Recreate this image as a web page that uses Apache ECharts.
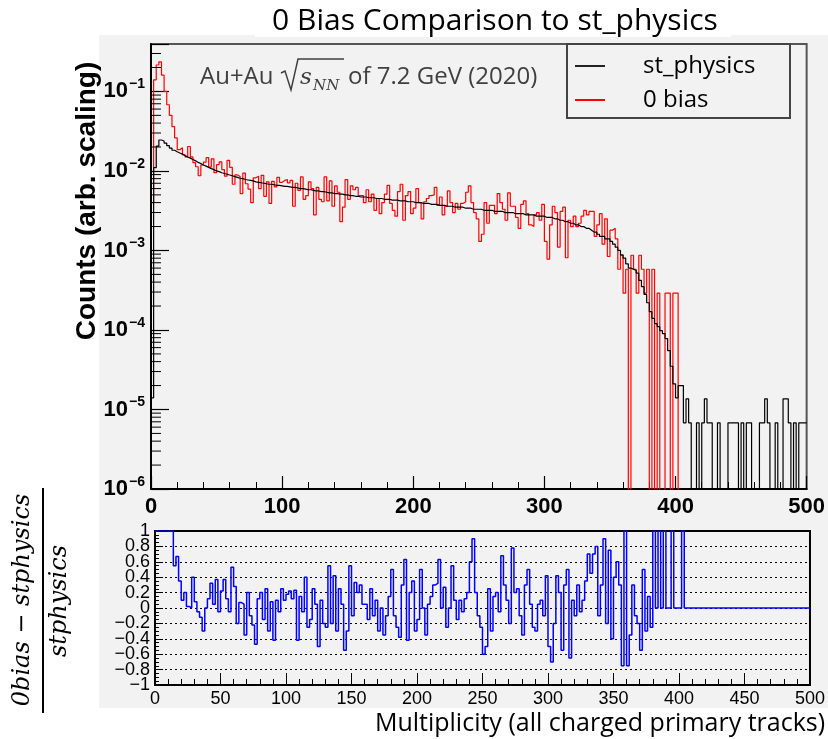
<!DOCTYPE html>
<html>
<head>
<meta charset="utf-8">
<script src="https://cdn.jsdelivr.net/npm/echarts@6/dist/echarts.min.js"></script>
<style>
  html, body { margin: 0; padding: 0; background: #fff; }
  #chart { width: 828px; height: 739px; }
</style>
</head>
<body>
<div id="chart"></div>
<script>
// Multiplicity histograms, 2-track-wide bins starting at 0
const BIN_WIDTH = 2;
const X_MAX = 500;

// st_physics trigger (black), normalised counts per bin
const stPhysics = [
  1.4e-5, 0.0110, 0.0205, 0.0245, 0.0238, 0.0224, 0.0208, 0.0194, 0.0182, 0.0174,
  0.0168, 0.0163, 0.0156, 0.0150, 0.0145, 0.0139, 0.0134, 0.0128, 0.0124, 0.0119,
  0.0115, 0.0111, 0.0107, 0.0104, 0.0100, 0.0098, 0.0095, 0.0093, 0.0091, 0.0089,
  0.0087, 0.0085, 0.0083, 0.0081, 0.0080, 0.0078, 0.0077, 0.0076, 0.0075, 0.0073,
  0.0072, 0.0071, 0.0070, 0.0069, 0.0068, 0.0068, 0.0067, 0.0066, 0.0066, 0.0065,
  0.0064, 0.0064, 0.0063, 0.0062, 0.0062, 0.0061, 0.0060, 0.0060, 0.0059, 0.0058,
  0.0058, 0.0057, 0.0056, 0.0056, 0.0055, 0.0055, 0.0054, 0.0053, 0.0053, 0.0052,
  0.0052, 0.0051, 0.0051, 0.0050, 0.0050, 0.0049, 0.0049, 0.0048, 0.0048, 0.0047,
  0.0047, 0.0047, 0.0046, 0.0046, 0.0046, 0.0045, 0.0045, 0.0045, 0.0044, 0.0044,
  0.0044, 0.0043, 0.0043, 0.0043, 0.0042, 0.0042, 0.0042, 0.0041, 0.0041, 0.0041,
  0.0040, 0.0040, 0.0040, 0.0039, 0.0039, 0.0039, 0.0038, 0.0038, 0.0038, 0.0037,
  0.0037, 0.0037, 0.0036, 0.0036, 0.0036, 0.0035, 0.0035, 0.0035, 0.0035, 0.0034,
  0.0034, 0.0034, 0.0033, 0.0033, 0.0033, 0.0033, 0.0032, 0.0032, 0.0032, 0.0032,
  0.0031, 0.0031, 0.0031, 0.0031, 0.0030, 0.0030, 0.0030, 0.0030, 0.0029, 0.0029,
  0.0029, 0.0029, 0.0028, 0.0028, 0.0028, 0.0028, 0.0027, 0.0027, 0.0027, 0.0027,
  0.0026, 0.0026, 0.0026, 0.0025, 0.0025, 0.0024, 0.0024, 0.0023, 0.0023, 0.0022,
  0.0022, 0.0021, 0.0021, 0.0020, 0.0020, 0.0019, 0.0019, 0.0018, 0.0017, 0.0017,
  0.0016, 0.0015, 0.0015, 0.0014, 0.0014, 0.0013, 0.0012, 0.0011, 0.00100, 0.00088,
  0.00080, 0.00068, 0.00060, 0.00058, 0.00056, 0.00052, 0.00042, 0.00035, 0.00028, 0.00022,
  0.00017, 0.00014, 0.00012, 0.00011, 0.000098, 0.000090, 0.000078, 0.000055, 0.000035, 0.000021,
  0.000014, 0.000020, 0.000020, 0.0000068, 0.0000136, 0.0000068, 0, 0, 0.0000068, 0,
  0.0000068, 0.0000136, 0.0000068, 0.0000068, 0, 0, 0.0000068, 0, 0, 0,
  0.0000068, 0.0000068, 0.0000068, 0.0000068, 0, 0.0000068, 0, 0.0000068, 0.0000068, 0,
  0, 0, 0.0000068, 0.0000068, 0.0000136, 0.0000068, 0, 0, 0.0000068, 0,
  0, 0.0000136, 0.0000136, 0.0000068, 0, 0.0000068, 0, 0.0000068, 0.0000068, 0.0000068
];

// zero-bias trigger (red), normalised counts per bin
const zeroBias = [
  0.0040, 0.14, 0.215, 0.236, 0.16, 0.10, 0.068, 0.050, 0.036, 0.026,
  0.0185, 0.0196, 0.0159, 0.0150, 0.0203, 0.0150, 0.0127, 0.0113, 0.0087, 0.0119,
  0.0129, 0.0147, 0.0112, 0.0142, 0.0095, 0.0120, 0.0130, 0.0104, 0.0086, 0.0136,
  0.0111, 0.0068, 0.0089, 0.0085, 0.0052, 0.0094, 0.0069, 0.0059, 0.0040, 0.0082,
  0.0086, 0.0060, 0.0088, 0.0048, 0.0073, 0.0039, 0.0074, 0.0063, 0.0083, 0.0072,
  0.0076, 0.0078, 0.0071, 0.0076, 0.0036, 0.0070, 0.0057, 0.0084, 0.0044, 0.0049,
  0.0073, 0.0060, 0.0028, 0.0062, 0.0044, 0.0041, 0.0084, 0.0042, 0.0075, 0.0036,
  0.0065, 0.0054, 0.0023, 0.0035, 0.0078, 0.0044, 0.0065, 0.0058, 0.0062, 0.0049,
  0.0049, 0.0040, 0.0058, 0.0041, 0.0051, 0.0032, 0.0045, 0.0029, 0.0040, 0.0051,
  0.0066, 0.0039, 0.0032, 0.0027, 0.0055, 0.0068, 0.0024, 0.0049, 0.0055, 0.0029,
  0.0034, 0.0060, 0.0040, 0.0025, 0.0041, 0.0045, 0.0049, 0.0050, 0.0062, 0.0037,
  0.0047, 0.0028, 0.0036, 0.0056, 0.0040, 0.0030, 0.0039, 0.0033, 0.0039, 0.0041,
  0.0054, 0.0065, 0.0040, 0.0030, 0.0025, 0.0013, 0.0016, 0.0040, 0.0022, 0.0037,
  0.0037, 0.0029, 0.0052, 0.0040, 0.0033, 0.0024, 0.0053, 0.0036, 0.0036, 0.0026,
  0.0019, 0.0038, 0.0042, 0.0029, 0.0021, 0.0020, 0.0028, 0.0030, 0.0024, 0.0038,
  0.0013, 0.00078, 0.0021, 0.0036, 0.0030, 0.0011, 0.0031, 0.0035, 0.00081, 0.0024,
  0.0020, 0.0027, 0.0020, 0.0022, 0.0027, 0.0032, 0.0028, 0.0031, 0.0031, 0.0015,
  0.0021, 0.0029, 0.0012, 0.0025, 0.00084, 0.0018, 0.0019, 0.0014, 0.00058, 0.00087,
  0.00029, 0.00058, 0, 0.00087, 0.00058, 0.00029, 0.00087, 0.00058, 0.00029, 0.00058,
  0, 0.00058, 0, 0.00029, 0, 0, 0.00029, 0.00029, 0, 0.00029,
  0.00029, 0, 0, 0, 0, 0, 0, 0, 0, 0,
  0, 0, 0, 0, 0, 0, 0, 0, 0, 0,
  0, 0, 0, 0, 0, 0, 0, 0, 0, 0,
  0, 0, 0, 0, 0, 0, 0, 0, 0, 0,
  0, 0, 0, 0, 0, 0, 0, 0, 0, 0
];

// (0bias - stphysics) / stphysics per bin, shown within [-1, 1]
const relDiff = [
  1, 1, 1, 1, 1, 1, 1, 0.55, 0.67, 0.35,
  0.1, 0.2, 0.02, 0.0, 0.4, 0.08, -0.05, -0.12, -0.3, 0.0,
  0.12, 0.32, 0.05, 0.37, -0.05, 0.22, 0.37, 0.12, -0.05, 0.53,
  0.28, -0.2, 0.07, 0.05, -0.35, 0.2, -0.1, -0.22, -0.47, 0.12,
  0.2, -0.15, 0.25, -0.3, 0.08, -0.42, 0.1, -0.05, 0.25, 0.1,
  0.18, 0.22, 0.12, 0.23, -0.42, 0.15, -0.05, 0.4, -0.25, -0.15,
  0.25, 0.05, -0.5, 0.1, -0.2, -0.25, 0.55, -0.2, 0.42, -0.3,
  0.25, 0.05, -0.55, -0.3, 0.55, -0.1, 0.33, 0.2, 0.3, 0.05,
  0.05, -0.15, 0.25, -0.1, 0.1, -0.3, 0.0, -0.35, -0.1, 0.15,
  0.5, -0.1, -0.25, -0.38, 0.3, 0.63, -0.42, 0.2, 0.35, -0.3,
  -0.15, 0.5, 0.0, -0.35, 0.05, 0.15, 0.3, 0.32, 0.63, 0.0,
  0.27, -0.25, 0.0, 0.55, 0.1, -0.15, 0.1, -0.05, 0.12, 0.2,
  0.6, 0.9, 0.2, -0.1, -0.25, -0.6, -0.5, 0.25, -0.3, 0.15,
  0.2, -0.05, 0.68, 0.3, 0.1, -0.2, 0.78, 0.2, 0.25, -0.1,
  -0.35, 0.3, 0.5, 0.05, -0.25, -0.3, 0.05, 0.1, -0.1, 0.42,
  -0.5, -0.7, -0.2, 0.42, 0.2, -0.55, 0.3, 0.5, -0.65, 0.1,
  -0.1, 0.3, -0.05, 0.1, 0.35, 0.7, 0.45, 0.7, 0.8, -0.1,
  0.3, 0.9, -0.2, 0.75, -0.4, 0.4, 0.6, 0.3, -0.75, 1,
  -0.75, -0.35, 0.3, -0.1, -0.2, -0.55, 0.5, -0.3, 0.15, -0.25,
  1, 0, 1, 0, 1, 0, 0, 1, 0, 0,
  0, 1, 0, 0, 0, 0, 0, 0, 0, 0,
  0, 0, 0, 0, 0, 0, 0, 0, 0, 0,
  0, 0, 0, 0, 0, 0, 0, 0, 0, 0,
  0, 0, 0, 0, 0, 0, 0, 0, 0, 0,
  0, 0, 0, 0, 0, 0, 0, 0, 0, 0
];

const LOG_MIN = 1e-6;
const LOG_MAX = 0.395;
const EMPTY_BIN = 1e-9; // empty bins fall below the frame and are clipped

// Step outline for a histogram: [left edge, content] plus a closing point at X_MAX
function histOutline(values, emptyValue) {
  const pts = values.map((v, i) => [i * BIN_WIDTH, (emptyValue !== undefined && v <= 0) ? emptyValue : v]);
  pts.push([X_MAX, pts[pts.length - 1][1]]);
  return pts;
}

// Minor ticks of the log axis (2..9 x 10^n)
const logMinorTicks = [];
for (let e = -6; e <= -1; e++) {
  for (let k = 2; k <= 9; k++) {
    const v = k * Math.pow(10, e);
    if (v < LOG_MAX) logMinorTicks.push([0, v]);
  }
}

const SANS = '"Liberation Sans", Arial, sans-serif';
const TEXT_FONT = '"Open Sans", sans-serif';

// ratio-axis labels; the labels next to the frame edges live on a second
// label-only axis so that ECharts does not drop them as overlapping
function ratioLabel(v) {
  const r = Math.round(v * 10) / 10;
  return (r === 0 ? '0' : String(r)).replace('-', '\u2212');
}
const isEdgeNeighbour = v => Math.abs(Math.abs(v) - 0.8) < 1e-6;

const chart = echarts.init(document.getElementById('chart'), null, { renderer: 'canvas' });

chart.setOption({
  animation: false,
  backgroundColor: 'transparent',
  grid: [
    { left: 151, top: 44, width: 656, height: 445, show: true, borderColor: '#555', borderWidth: 2, backgroundColor: 'transparent' },
    { left: 155, top: 531, width: 659, height: 154, show: true, borderColor: '#000', borderWidth: 2, backgroundColor: 'transparent' }
  ],
  legend: {
    data: [
      { name: 'st_physics', icon: 'rect', itemStyle: { color: '#222' } },
      { name: '0 bias', icon: 'rect', itemStyle: { color: '#ff0000' } }
    ],
    orient: 'vertical',
    left: 567, top: 44,
    padding: [8, 7, 4, 8],
    itemGap: 6,
    itemWidth: 30,
    itemHeight: 2,
    backgroundColor: '#f2f2f2',
    borderColor: '#444',
    borderWidth: 2,
    borderRadius: 0,
    textStyle: { fontFamily: TEXT_FONT, fontSize: 24, color: '#000', lineHeight: 28, width: 140, padding: [0, 0, 0, 33] }
  },
  xAxis: [
    {
      type: 'value', gridIndex: 0, min: 0, max: X_MAX, interval: 100,
      axisLine: { show: true, onZero: false, lineStyle: { color: '#000', width: 2 } },
      axisTick: { show: true, inside: true, length: 13, lineStyle: { color: '#000', width: 1.2 } },
      minorTick: { show: true, splitNumber: 5, length: 7, lineStyle: { color: '#000', width: 1 } },
      axisLabel: { margin: 7, fontFamily: SANS, fontWeight: 'bold', fontSize: 22, color: '#000' },
      splitLine: { show: false }
    },
    {
      type: 'value', gridIndex: 1, min: 0, max: X_MAX, interval: 50,
      axisLine: { show: true, onZero: false, lineStyle: { color: '#000', width: 2 } },
      axisTick: { show: true, inside: true, length: 12, lineStyle: { color: '#000', width: 1 } },
      minorTick: { show: true, splitNumber: 5, length: 6, lineStyle: { color: '#000', width: 1 } },
      axisLabel: { margin: 5, fontFamily: SANS, fontSize: 18, color: '#000', showMinLabel: true, showMaxLabel: true },
      splitLine: { show: false }
    }
  ],
  yAxis: [
    {
      type: 'log', gridIndex: 0, logBase: 10, min: LOG_MIN, max: LOG_MAX,
      axisLine: { show: true, lineStyle: { color: '#000', width: 2 } },
      axisTick: { show: true, inside: true, length: 18, lineStyle: { color: '#000', width: 1.2 } },
      axisLabel: {
        margin: 6,
        formatter: function (v) {
          const lg = Math.log10(v);
          const e = Math.round(lg);
          if (Math.abs(lg - e) > 1e-6) return '';
          return '{b|10}{s|' + (e < 0 ? '\u2212' : '') + Math.abs(e) + '}';
        },
        rich: {
          b: { fontFamily: SANS, fontWeight: 'bold', fontSize: 22, color: '#000' },
          s: { fontFamily: SANS, fontWeight: 'bold', fontSize: 14, color: '#000', padding: [0, 0, 14, 1] }
        }
      },
      splitLine: { show: false }
    },
    {
      type: 'value', gridIndex: 1, min: -1, max: 1, interval: 0.2, position: 'left',
      axisLine: { show: true, onZero: false, lineStyle: { color: '#000', width: 2 } },
      axisTick: { show: true, inside: true, length: 8, lineStyle: { color: '#000', width: 1 } },
      minorTick: { show: true, splitNumber: 4, length: 4, lineStyle: { color: '#000', width: 1 } },
      axisLabel: {
        margin: 5, fontFamily: SANS, fontSize: 18, color: '#000',
        showMinLabel: true, showMaxLabel: true,
        formatter: v => isEdgeNeighbour(v) ? '' : ratioLabel(v)
      },
      splitLine: { show: true, lineStyle: { color: '#000', width: 1, type: [2, 3] } }
    },
    {
      type: 'value', gridIndex: 1, min: -1, max: 1, interval: 0.2, position: 'left', offset: 0,
      axisLine: { show: false },
      axisTick: { show: false },
      minorTick: { show: false },
      splitLine: { show: false },
      axisLabel: {
        margin: 5, fontFamily: SANS, fontSize: 18, color: '#000',
        showMinLabel: true, showMaxLabel: true,
        formatter: v => isEdgeNeighbour(v) ? ratioLabel(v) : ''
      }
    }
  ],
  series: [
    {
      name: '0 bias', type: 'line', xAxisIndex: 0, yAxisIndex: 0,
      step: 'end', symbol: 'none', clip: true, sampling: false,
      data: histOutline(zeroBias, EMPTY_BIN),
      lineStyle: { color: '#ff0000', width: 1.2 },
      itemStyle: { color: '#ff0000' },
      z: 3
    },
    {
      name: 'st_physics', type: 'line', xAxisIndex: 0, yAxisIndex: 0,
      step: 'end', symbol: 'none', clip: true,
      data: histOutline(stPhysics, EMPTY_BIN),
      lineStyle: { color: '#000', width: 1.2 },
      itemStyle: { color: '#000' },
      z: 4
    },
    {
      name: 'ratio', type: 'line', xAxisIndex: 1, yAxisIndex: 1,
      step: 'end', symbol: 'none', clip: true,
      data: histOutline(relDiff),
      lineStyle: { color: '#0000ff', width: 1.5 },
      itemStyle: { color: '#0000ff' },
      z: 3
    },
    {
      name: 'log minor ticks', type: 'custom', xAxisIndex: 0, yAxisIndex: 0,
      silent: true, clip: false,
      data: logMinorTicks,
      renderItem: function (params, api) {
        const p = api.coord([0, api.value(1)]);
        return {
          type: 'line',
          shape: { x1: p[0], y1: p[1], x2: p[0] + 10, y2: p[1] },
          style: { stroke: '#000', lineWidth: 1 }
        };
      },
      z: 5
    }
  ],
  graphic: [
    { type: 'rect', z: -20, silent: true, shape: { x: 99, y: 35, width: 729, height: 673 }, style: { fill: '#f2f2f2' } },
    { type: 'rect', z: -19, silent: true, shape: { x: 255, y: 0, width: 476, height: 37 }, style: { fill: '#ffffff' } },
    {
      type: 'text', x: 495, y: 21, z: 10,
      style: { text: '0 Bias Comparison to st_physics', font: '30px "Open Sans", sans-serif', fill: '#000', textAlign: 'center', textVerticalAlign: 'middle', align: 'center', verticalAlign: 'middle' }
    },
    {
      type: 'text', x: 600, y: 724, z: 10,
      style: { text: 'Multiplicity (all charged primary tracks)', font: '25px "Open Sans", sans-serif', fill: '#000', textAlign: 'center', textVerticalAlign: 'middle', align: 'center', verticalAlign: 'middle' }
    },
    {
      type: 'text', x: 87, y: 201, rotation: Math.PI / 2, z: 10,
      style: { text: 'Counts (arb. scaling)', font: 'bold 28px "Liberation Sans", Arial, sans-serif', fill: '#000', textAlign: 'center', textVerticalAlign: 'middle', align: 'center', verticalAlign: 'middle' }
    },
    // ratio axis title as a fraction
    {
      type: 'text', x: 23, y: 600, rotation: Math.PI / 2, z: 10,
      style: { text: '0bias \u2212 stphysics', font: 'italic 24px "DejaVu Serif", serif', fill: '#000', textAlign: 'center', textVerticalAlign: 'middle', align: 'center', verticalAlign: 'middle' }
    },
    {
      type: 'line', z: 10, silent: true,
      shape: { x1: 43, y1: 488, x2: 43, y2: 713 },
      style: { stroke: '#000', lineWidth: 2 }
    },
    {
      type: 'text', x: 60, y: 601, rotation: Math.PI / 2, z: 10,
      style: { text: 'stphysics', font: 'italic 24px "DejaVu Serif", serif', fill: '#000', textAlign: 'center', textVerticalAlign: 'middle', align: 'center', verticalAlign: 'middle' }
    },
    // collision system annotation
    {
      type: 'text', x: 200, y: 77, z: 10,
      style: { text: 'Au+Au', font: '24px "Open Sans", sans-serif', fill: '#404040', textAlign: 'left', textVerticalAlign: 'middle', align: 'left', verticalAlign: 'middle' }
    },
    {
      type: 'polyline', z: 10, silent: true,
      shape: { points: [[281, 73], [285, 71], [291, 90], [298, 59], [344, 59]] },
      style: { stroke: '#404040', lineWidth: 1.5, fill: null }
    },
    {
      type: 'text', x: 300, y: 78, z: 10,
      style: { text: 's', font: 'italic 23px "DejaVu Serif", serif', fill: '#404040', textAlign: 'left', textVerticalAlign: 'middle', align: 'left', verticalAlign: 'middle' }
    },
    {
      type: 'text', x: 313, y: 86, z: 10,
      style: { text: 'NN', font: 'italic 15px "DejaVu Serif", serif', fill: '#404040', textAlign: 'left', textVerticalAlign: 'middle', align: 'left', verticalAlign: 'middle' }
    },
    {
      type: 'text', x: 348, y: 77, z: 10,
      style: { text: 'of 7.2 GeV (2020)', font: '24px "Open Sans", sans-serif', fill: '#404040', textAlign: 'left', textVerticalAlign: 'middle', align: 'left', verticalAlign: 'middle' }
    }
  ]
});
</script>
</body>
</html>
